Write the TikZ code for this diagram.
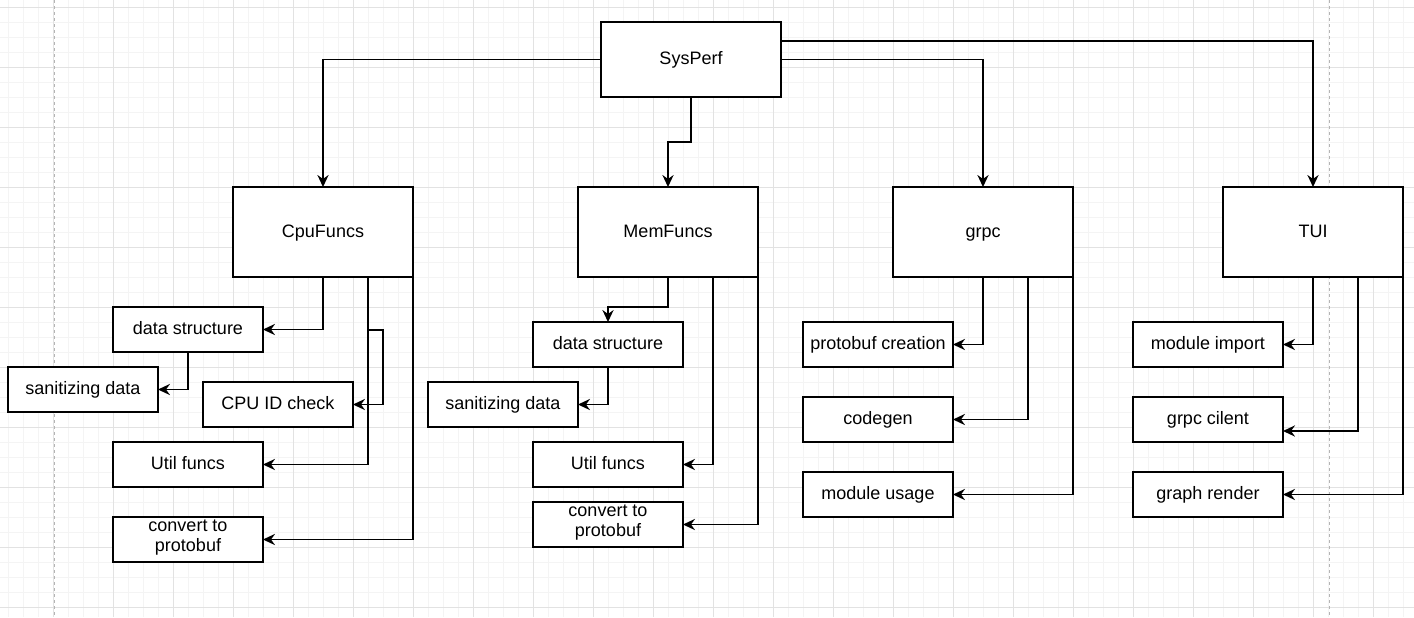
\documentclass[tikz,border=0pt]{standalone}
\usepackage{fontspec}
\setmainfont{Liberation Sans}
\usepackage{xcolor}
\usetikzlibrary{positioning}
\usetikzlibrary{calc}
\usetikzlibrary{arrows.meta}

\definecolor{gridminor}{HTML}{F4F4F4}
\definecolor{gridmajor}{HTML}{E2E2E2}
\definecolor{pageedge}{HTML}{B4B4B4}

\begin{document}
\begin{tikzpicture}[x=0.5pt,y=-0.5pt,
  font=\fontsize{9}{10}\selectfont,
  box/.style={draw,line width=0.75pt,fill=white,inner sep=0pt,outer sep=0pt,align=center,execute at begin node=\rule[-2.4pt]{0pt}{10pt}},
  bigbox/.style={box,minimum width=90pt,minimum height=45pt},
  smallbox/.style={box,minimum width=75pt,minimum height=22.5pt},
  twoline/.style={smallbox,execute at end node=\rule[-4.1pt]{0pt}{4.1pt}},
  link/.style={line width=0.85pt,-{Stealth[length=6pt,width=5.6pt,inset=2pt]}}]
\useasboundingbox (0,0) rectangle (1414,617);
\fill[white] (0,0) rectangle (1414,617);
\foreach \x in {8,23,...,1414} \draw[gridminor,line width=0.5pt] (\x,0) -- (\x,617);
\foreach \y in {7,22,...,617} \draw[gridminor,line width=0.5pt] (0,\y) -- (1414,\y);
\foreach \x in {53,113,...,1414} \draw[gridmajor,line width=0.5pt] (\x,0) -- (\x,617);
\foreach \y in {7,67,...,617} \draw[gridmajor,line width=0.5pt] (0,\y) -- (1414,\y);
\draw[pageedge,line width=0.5pt,dash pattern=on 1.5pt off 1.5pt] (54,0) -- (54,617);
\draw[pageedge,line width=0.5pt,dash pattern=on 1.5pt off 1.5pt] (1329,0) -- (1329,617);

\node[box,minimum width=90pt,minimum height=37.5pt] (sys) at (691,59.5) {SysPerf};
\node[bigbox] (cpu) at (323,232) {CpuFuncs};
\node[bigbox] (mem) at (668,232) {MemFuncs};
\node[bigbox] (grpc) at (983,232) {grpc};
\node[bigbox] (tui) at (1313,232) {TUI};

\node[smallbox] (ds1) at (188,329.5) {data structure};
\node[smallbox] (san1) at (83,389.5) {sanitizing data};
\node[smallbox] (cpuid) at (278,404.5) {CPU ID check};
\node[smallbox] (util1) at (188,464.5) {Util funcs};
\node[twoline] (conv1) at (188,539.5) {convert to\\protobuf};

\node[smallbox] (ds2) at (608,344.5) {data structure};
\node[smallbox] (san2) at (503,404.5) {sanitizing data};
\node[smallbox] (util2) at (608,464.5) {Util funcs};
\node[twoline] (conv2) at (608,524.5) {convert to\\protobuf};

\node[smallbox] (pbc) at (878,344.5) {protobuf creation};
\node[smallbox] (codegen) at (878,419.5) {codegen};
\node[smallbox] (modusage) at (878,494.5) {module usage};

\node[smallbox] (modimp) at (1208,344.5) {module import};
\node[smallbox] (cilent) at (1208,419.5) {grpc cilent};
\node[smallbox] (render) at (1208,494.5) {graph render};

\draw[link] (sys.west) -| (cpu.north);
\draw[link] (sys.south) |- ($(mem.north)+(0,-45)$) -- (mem.north);
\draw[link] (sys.east) -| (grpc.north);
\draw[link] ($(sys.north east)+(0,19)$) -| (tui.north);

\draw[link] (cpu.south) |- (ds1.east);
\draw[link] (ds1.south) |- (san1.east);
\draw[link] ($(cpu.south)+(45,0)$) -- ++(0,53) -- ++(15,0) |- (cpuid.east);
\draw[link] ($(cpu.south)+(45,0)$) |- (util1.east);
\draw[link] (cpu.south east) |- (conv1.east);

\draw[link] (mem.south) |- ($(ds2.north)+(0,-15)$) -- (ds2.north);
\draw[link] (ds2.south) |- (san2.east);
\draw[link] ($(mem.south)+(45,0)$) |- (util2.east);
\draw[link] (mem.south east) |- (conv2.east);

\draw[link] (grpc.south) |- (pbc.east);
\draw[link] ($(grpc.south)+(45,0)$) |- (codegen.east);
\draw[link] (grpc.south east) |- (modusage.east);

\draw[link] (tui.south) |- (modimp.east);
\draw[link] ($(tui.south)+(45,0)$) |- ($(cilent.east)+(0,11.5)$);
\draw[link] (tui.south east) |- (render.east);
\end{tikzpicture}
\end{document}
